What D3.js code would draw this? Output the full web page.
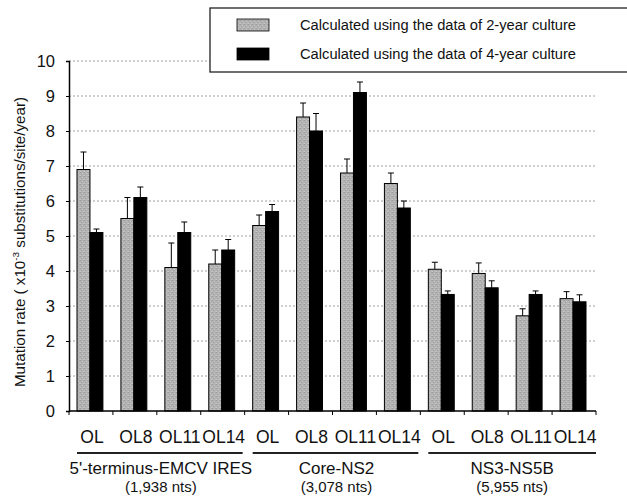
<!DOCTYPE html>
<html>
<head>
<meta charset="utf-8">
<script src="https://cdn.jsdelivr.net/npm/d3@7"></script>
<style>
  body { margin: 0; background: #fff; }
  svg { display: block; font-family: "Liberation Sans", Arial, Helvetica, sans-serif; }
</style>
</head>
<body>
<svg id="chart" width="627" height="498"></svg>
<script>
// Clones within each genomic region
const categories = ["OL", "OL8", "OL11", "OL14", "OL", "OL8", "OL11", "OL14", "OL", "OL8", "OL11", "OL14"];
const regions = ["5'-terminus-EMCV IRES", "Core-NS2", "NS3-NS5B"];
const regionSizes = ["(1,938 nts)", "(3,078 nts)", "(5,955 nts)"];
const seriesNames = ["Calculated using the data of 2-year culture", "Calculated using the data of 4-year culture"];

// Mutation rate (x10^-3 substitutions/site/year) and upper error bar
const rate2yr = [6.9, 5.5, 4.1, 4.2, 5.3, 8.4, 6.8, 6.5, 4.05, 3.93, 2.72, 3.21];
const err2yr  = [0.5, 0.6, 0.7, 0.4, 0.3, 0.4, 0.4, 0.3, 0.2, 0.3, 0.2, 0.2];
const rate4yr = [5.1, 6.1, 5.1, 4.6, 5.7, 8.0, 9.1, 5.8, 3.33, 3.52, 3.33, 3.12];
const err4yr  = [0.1, 0.3, 0.3, 0.3, 0.2, 0.5, 0.3, 0.2, 0.1, 0.2, 0.1, 0.2];
const yTicks = [0, 1, 2, 3, 4, 5, 6, 7, 8, 9, 10];

const svg = d3.select("#chart");

// fine halftone grain for the grey bars
const defs = svg.append("defs");
const pat = defs.append("pattern")
  .attr("id", "grain").attr("width", 4).attr("height", 4)
  .attr("patternUnits", "userSpaceOnUse");
pat.append("rect").attr("width", 4).attr("height", 4).attr("fill", "#b2b2b2");
[[0, 0, "#9c9c9c"], [2, 1, "#c4c4c4"], [1, 2, "#a2a2a2"], [3, 3, "#bfbfbf"], [3, 0, "#a8a8a8"], [0, 3, "#c8c8c8"]]
  .forEach(([px, py, c]) => pat.append("rect").attr("x", px).attr("y", py).attr("width", 1).attr("height", 1).attr("fill", c));

const x0 = 69, x1 = 596, yTop = 61, yBot = 411;
const x = d3.scaleBand().domain(d3.range(categories.length)).range([x0, x1]).paddingInner(0).paddingOuter(0);
const sub = d3.scaleBand().domain([0, 1]).range([8, x.bandwidth() - 10]).padding(0);
const y = d3.scaleLinear().domain([0, 10]).range([yBot, yTop]);

// grid lines
svg.append("g").selectAll("line").data(yTicks.filter(d => d > 0)).join("line")
  .attr("x1", x0).attr("x2", x1)
  .attr("y1", d => y(d)).attr("y2", d => y(d))
  .attr("stroke", "#a0a0a0").attr("stroke-width", 1)
  .attr("stroke-dasharray", "2,2");

// bars
const series = [
  { vals: rate2yr, errs: err2yr, fill: "url(#grain)" },
  { vals: rate4yr, errs: err4yr, fill: "#000" }
];
series.forEach((s, si) => {
  const g = svg.append("g");
  const cx = i => x(i) + sub(si) + sub.bandwidth() / 2;
  // error bars (upper only)
  g.selectAll("line.err").data(s.vals).join("line")
    .attr("x1", (d, i) => cx(i)).attr("x2", (d, i) => cx(i))
    .attr("y1", d => y(d)).attr("y2", (d, i) => y(d + s.errs[i]))
    .attr("stroke", "#000").attr("stroke-width", 1);
  g.selectAll("line.cap").data(s.vals).join("line")
    .attr("x1", (d, i) => cx(i) - 3).attr("x2", (d, i) => cx(i) + 3)
    .attr("y1", (d, i) => y(d + s.errs[i])).attr("y2", (d, i) => y(d + s.errs[i]))
    .attr("stroke", "#000").attr("stroke-width", 1);
  g.selectAll("rect").data(s.vals).join("rect")
    .attr("x", (d, i) => x(i) + sub(si))
    .attr("y", d => y(d))
    .attr("width", sub.bandwidth())
    .attr("height", d => yBot - y(d))
    .attr("fill", s.fill)
    .attr("stroke", "#000").attr("stroke-width", 1);
});

// y axis
const yAxis = svg.append("g").attr("transform", `translate(${x0},0)`)
  .call(d3.axisLeft(y).tickValues(yTicks).tickSize(3).tickPadding(11));
yAxis.select(".domain").attr("stroke", "#000").attr("stroke-width", 1.5);
yAxis.selectAll("text").attr("font-size", 16.5).attr("fill", "#111");

// x axis with ticks on category boundaries
svg.append("line").attr("x1", x0).attr("x2", x1).attr("y1", yBot).attr("y2", yBot)
  .attr("stroke", "#000").attr("stroke-width", 1.5);
svg.append("g").selectAll("line").data(d3.range(categories.length + 1)).join("line")
  .attr("x1", i => i < categories.length ? x(i) : x1)
  .attr("x2", i => i < categories.length ? x(i) : x1)
  .attr("y1", yBot).attr("y2", yBot + 4)
  .attr("stroke", "#000");

// category labels
svg.append("g").selectAll("text").data(categories).join("text")
  .attr("x", (d, i) => x(i) + x.bandwidth() / 2 + 1)
  .attr("y", 443)
  .attr("text-anchor", "middle")
  .attr("font-size", 17.5).attr("fill", "#111")
  .text(d => d);

// region brackets and labels
regions.forEach((r, ri) => {
  const a = x(ri * 4) + 8, b = x(ri * 4 + 3) + x.bandwidth() - (ri === 2 ? 0 : 2);
  svg.append("line").attr("x1", a).attr("x2", b).attr("y1", 453).attr("y2", 453)
    .attr("stroke", "#222").attr("stroke-width", 1.8);
  const cx = (x(ri * 4) + x(ri * 4 + 3) + x.bandwidth()) / 2 + 4;
  svg.append("text").attr("x", cx).attr("y", 474).attr("text-anchor", "middle")
    .attr("font-size", 17).attr("fill", "#111").text(r);
  svg.append("text").attr("x", cx).attr("y", 492).attr("text-anchor", "middle")
    .attr("font-size", 15).attr("fill", "#111").text(regionSizes[ri]);
});

// y axis title
const yt = svg.append("text")
  .attr("transform", "translate(25,242) rotate(-90)")
  .attr("text-anchor", "middle")
  .attr("font-size", 14.5).attr("fill", "#111")
  .attr("textLength", 290).attr("lengthAdjust", "spacingAndGlyphs");
yt.append("tspan").text("Mutation rate ( x10");
yt.append("tspan").attr("font-size", 9.5).attr("dy", -6).text("-3");
yt.append("tspan").attr("dy", 6).text(" substitutions/site/year)");

// legend
const lg = svg.append("g");
lg.append("rect").attr("x", 210).attr("y", 8).attr("width", 430).attr("height", 64)
  .attr("fill", "#fff").attr("stroke", "#222").attr("stroke-width", 1.3);
const swatchFill = ["url(#grain)", "#000"];
seriesNames.forEach((n, i) => {
  lg.append("rect").attr("x", 237).attr("y", 19 + i * 29).attr("width", 32).attr("height", 12)
    .attr("fill", swatchFill[i]).attr("stroke", "#000").attr("stroke-width", 0.8);
  lg.append("text").attr("x", 300).attr("y", 30 + i * 29)
    .attr("font-size", 14.7).attr("fill", "#111").text(n);
});
</script>
</body>
</html>
